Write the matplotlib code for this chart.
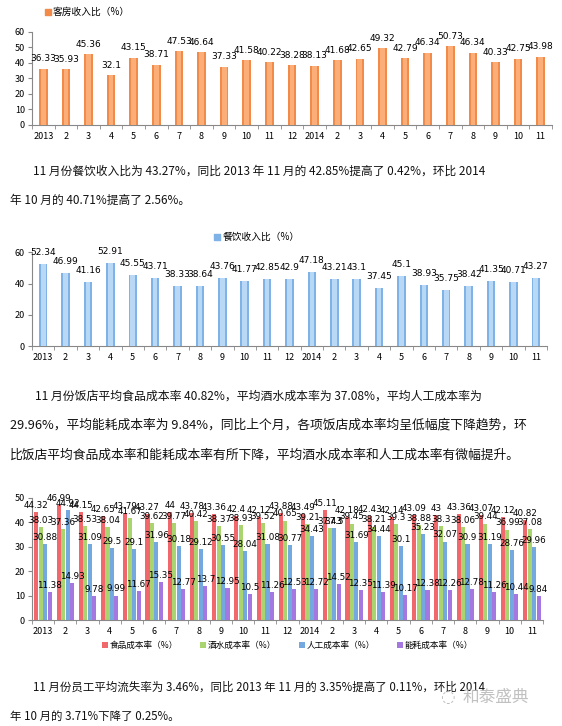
import matplotlib
matplotlib.use('Agg')
import matplotlib.pyplot as plt
import numpy as np

plt.rcParams['font.family'] = ['Noto Sans CJK SC', 'DejaVu Sans']

# 月份标签
months = ['2013', '2', '3', '4', '5', '6', '7', '8', '9', '10', '11', '12',
          '2014', '2', '3', '4', '5', '6', '7', '8', '9', '10', '11']

# 客房收入比
room = [36.33, 35.93, 45.36, 32.1, 43.15, 38.71, 47.53, 46.64, 37.33, 41.58, 40.22, 38.28,
        38.13, 41.68, 42.65, 49.32, 42.79, 46.34, 50.73, 46.34, 40.33, 42.75, 43.98]

# 餐饮收入比
food_rev = [52.34, 46.99, 41.16, 52.91, 45.55, 43.71, 38.33, 38.64, 43.76, 41.77, 42.85, 42.9,
            47.18, 43.21, 43.1, 37.45, 45.1, 38.93, 35.75, 38.42, 41.35, 40.71, 43.27]

# 成本率
food_cost = [44.32, 46.99, 44.15, 42.65, 43.79, 43.27, 44, 43.78, 43.36, 42.4, 42.12, 43.88,
             43.49, 45.11, 42.18, 42.43, 42.14, 43.09, 43, 43.36, 43.07, 42.12, 40.82]
drink_cost = [38.03, 37.36, 38.53, 38.04, 41.67, 39.62, 39.77, 40.42, 38.37, 38.93, 39.52, 40.65,
              39.21, 37.43, 39.45, 38.21, 39.3, 38.88, 38.3, 38.06, 39.44, 36.99, 37.08]
labor_cost = [30.88, 44.92, 31.09, 29.5, 29.1, 31.96, 30.18, 29.12, 30.55, 28.04, 31.08, 30.77,
              34.43, 37.5, 31.69, 34.44, 30.1, 35.23, 32.07, 30.9, 31.19, 28.76, 29.96]
energy_cost = [11.38, 14.93, 9.78, 9.99, 11.67, 15.35, 12.77, 13.7, 12.95, 10.5, 11.26, 12.53,
               12.72, 14.52, 12.35, 11.39, 10.17, 12.38, 12.26, 12.78, 11.26, 10.44, 9.84]

cost_names = ['食品成本率（%）', '酒水成本率（%）', '人工成本率（%）', '能耗成本率（%）']
cost_colors = ['#F0686B', '#A9D46F', '#74A9E0', '#A478E0']

para1 = ['11 月份餐饮收入比为 43.27%，同比 2013 年 11 月的 42.85%提高了 0.42%，环比 2014',
         '年 10 月的 40.71%提高了 2.56%。']
para2 = ['11 月份饭店平均食品成本率 40.82%，平均酒水成本率为 37.08%，平均人工成本率为',
         '29.96%，平均能耗成本率为 9.84%，同比上个月，各项饭店成本率均呈低幅度下降趋势，环',
         '比饭店平均食品成本率和能耗成本率有所下降，平均酒水成本率和人工成本率有微幅提升。']
para3 = ['11 月份员工平均流失率为 3.46%，同比 2013 年 11 月的 3.35%提高了 0.11%，环比 2014',
         '年 10 月的 3.71%下降了 0.25%。']

W, H = 562, 726
fig = plt.figure(figsize=(W / 100, H / 100), dpi=100)
fig.patch.set_facecolor('white')
renderer = fig.canvas.get_renderer()


def box(left, top, right, bottom):
    # 像素坐标（左上为原点）转为 figure 坐标
    return [left / W, 1 - bottom / H, (right - left) / W, (bottom - top) / H]


def ftext(x, y, s, **kw):
    return fig.text(x / W, 1 - y / H, s, **kw)


def line_text(x, y, s, width=None, fs=8.5):
    # 按参考图中每行的宽度调整字号
    t = ftext(x, y, s, fontsize=fs, va='center', color='#111111')
    if width:
        w = t.get_window_extent(renderer).width
        fs = fs * width / w
        t.set_fontsize(fs)
    return fs


def style_axes(ax, ymax, ystep):
    n = len(months)
    x = np.arange(n)
    ax.set_xlim(-0.5, n - 0.5)
    ax.set_ylim(0, ymax)
    ax.set_yticks(np.arange(0, ymax + 1, ystep))
    ax.set_xticks(x)
    ax.set_xticklabels(months)
    ax.set_xticks(np.arange(-0.5, n, 1), minor=True)
    ax.tick_params(axis='x', which='major', length=0, labelsize=6.5, pad=5)
    ax.tick_params(axis='x', which='minor', length=3, color='#888888')
    ax.tick_params(axis='y', length=3, color='#888888', labelsize=6.5, pad=2)
    for s in ['top', 'right']:
        ax.spines[s].set_visible(False)
    for s in ['left', 'bottom']:
        ax.spines[s].set_color('#888888')
        ax.spines[s].set_linewidth(0.8)
    ax.set_facecolor('white')


def cyl_bars(ax, x, vals, width, edge, mid):
    # 模拟圆柱形渐变柱子
    ax.bar(x, vals, width, color=edge, zorder=2)
    ax.bar(x, vals, width * 0.55, color=mid, zorder=3)


x = np.arange(len(months))

# ---- 图1 客房收入比 ----
ax1 = fig.add_axes(box(32, 31.7, 552, 125))
style_axes(ax1, 60, 10)
cyl_bars(ax1, x, room, 0.38, '#F28A4A', '#FCAE78')
for xi, v in zip(x, room):
    ax1.annotate(f'{v:g}', (xi, v), xytext=(0, 4), textcoords='offset points',
                 ha='center', va='bottom', fontsize=6.5, family='DejaVu Sans')
ax1.scatter([], [], marker='s', s=14, color='#F28A4A', label='客房收入比（%）')
ax1.legend(loc='upper left', bbox_to_anchor=(0.015, 1.31), frameon=False,
           fontsize=7, handletextpad=0.1, borderaxespad=0, handlelength=0.8)

# ---- 段落1 ----
fs1 = line_text(33, 171, para1[0], 449)
line_text(10, 200, para1[1], fs=fs1)

# ---- 图2 餐饮收入比 ----
ax2 = fig.add_axes(box(32, 252.3, 547, 346))
style_axes(ax2, 60, 20)
cyl_bars(ax2, x, food_rev, 0.38, '#7FB2E6', '#B8D8F6')
for xi, v in zip(x, food_rev):
    ax2.annotate(f'{v:g}', (xi, v), xytext=(0, 5), textcoords='offset points',
                 ha='center', va='bottom', fontsize=6.5, family='DejaVu Sans')
ax2.scatter([], [], marker='s', s=14, color='#7FB2E6', label='餐饮收入比（%）')
ax2.legend(loc='upper left', bbox_to_anchor=(0.345, 1.26), frameon=False,
           fontsize=7, handletextpad=0.1, borderaxespad=0, handlelength=0.8)

# ---- 段落2 ----
line_text(35, 396, para2[0], 447)
line_text(10, 425, para2[1], 517)
line_text(10, 455, para2[2], 510)

# ---- 图3 成本率 ----
ax3 = fig.add_axes(box(32, 497.7, 543, 620))
style_axes(ax3, 50, 10)
series = [food_cost, drink_cost, labor_cost, energy_cost]
bw = 0.2
for k, (vals, c, name) in enumerate(zip(series, cost_colors, cost_names)):
    xs = x + (k - 1.5) * bw
    ax3.bar(xs, vals, bw * 0.92, color=c, zorder=2, label=name)
    for xi, v in zip(xs, vals):
        ax3.annotate(f'{v:g}', (xi, v), xytext=(0, 1.5), textcoords='offset points',
                     ha='center', va='bottom', fontsize=6.3, family='DejaVu Sans', zorder=5)
ax3.legend(loc='upper center', bbox_to_anchor=(0.5, -0.14), ncol=4, frameon=False,
           fontsize=6.2, handlelength=0.7, handleheight=0.7, handletextpad=0.2,
           columnspacing=2.6, borderaxespad=0)

# ---- 段落3 ----
fs3 = line_text(33, 687, para3[0], 449)
line_text(10, 716, para3[1], fs=fs3)

# 水印
ftext(463, 697, '和泰盛典', fontsize=12, color='#BBBBBB', va='center', alpha=0.9)
ftext(440, 697, '◌', fontsize=12, color='#BBBBBB', va='center',
      family=['DejaVu Sans'])

fig.savefig('out.png', dpi=100, facecolor='white')
